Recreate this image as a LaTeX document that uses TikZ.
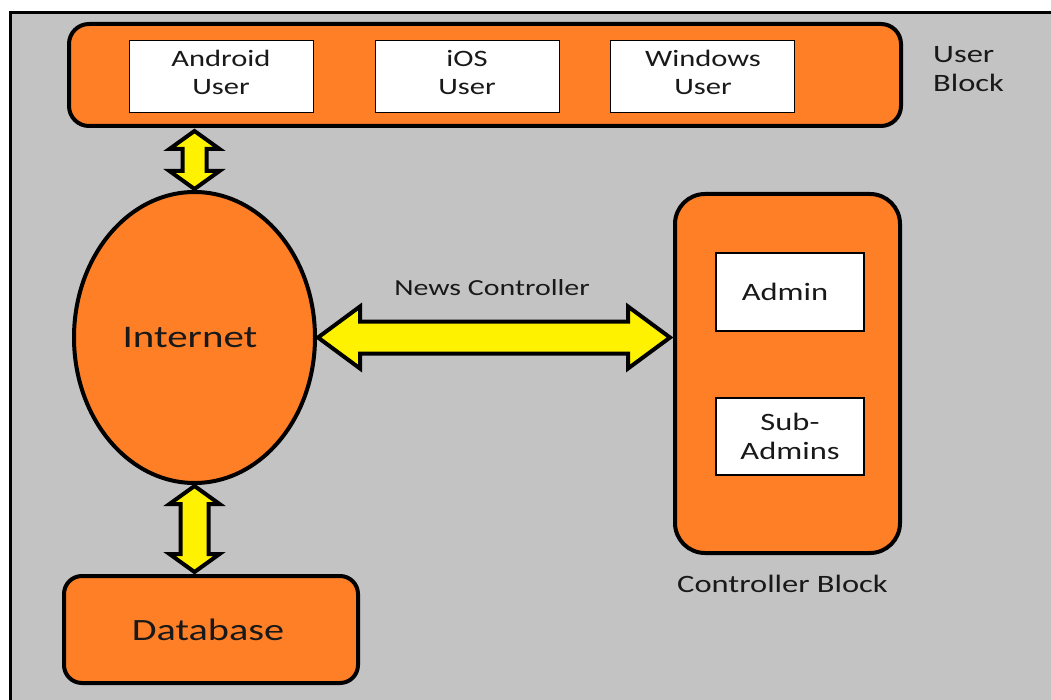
\documentclass[tikz,border=0pt]{standalone}
\usepackage{fontspec}
\setmainfont{Carlito}[FakeStretch=1.3]
\usetikzlibrary{shapes.geometric,calc}
\definecolor{bggrey}{RGB}{195,195,195}
\definecolor{orng}{RGB}{255,127,39}
\definecolor{yel}{RGB}{255,242,0}
\definecolor{ink}{RGB}{25,25,25}
\begin{document}
\begin{tikzpicture}[x=1pt,y=-1pt,
  block/.style={draw=black, line width=4pt, fill=orng, rounded corners=#1, inner sep=0pt, text=ink},
  whitebox/.style={draw=black, line width=1.5pt, fill=white, inner sep=0pt, text=ink},
  lbl/.style={inner sep=0pt, text=ink, align=center, font=\fontsize{23.5}{28}\selectfont},
  darrow/.style={draw=black, line width=4pt, fill=yel, line join=miter}
]
\fill[white] (0,0) rectangle (1051,700);
\useasboundingbox (0,0) rectangle (1051,700);
\fill[bggrey] (10,13) rectangle (1051,700);
\draw[line width=3pt] (10,700) -- (10,13) -- (1051,13);

% user block
\node[block=20, minimum width=832pt, minimum height=102pt] (user) at (485,75) {};
\node[whitebox, minimum width=184pt, minimum height=72pt] (android) at (221.5,76.5) {};
\node[whitebox, minimum width=184pt, minimum height=72pt] (ios) at (467.5,76.5) {};
\node[whitebox, minimum width=184pt, minimum height=72pt] (windows) at (702.5,76.5) {};
\node[lbl, anchor=base] (tandroid) at (221,95) {Android\\User};
\node[lbl, anchor=base] (tios) at (467,95) {iOS\\User};
\node[lbl, anchor=base] (twindows) at (703,95) {Windows\\User};
\node[lbl, align=left, anchor=base west, font=\fontsize{25}{29}\selectfont] (tuserblock) at (933,92) {User\\Block};

% internet
\node[ellipse, draw=black, line width=4pt, fill=orng, minimum width=241pt, minimum height=291pt, inner sep=0pt, text=ink, font=\fontsize{31.5}{36}\selectfont] (inet) at (194.5,337.5) {\hspace*{-9pt}Internet};

% database
\node[block=18, minimum width=294pt, minimum height=107pt, font=\fontsize{31}{36}\selectfont] (db) at (211,629.5) {\hspace*{-6pt}Database};

% controller block
\node[block=30, minimum width=225pt, minimum height=359pt] (ctrl) at (787.5,373.5) {};
\node[whitebox, minimum width=148pt, minimum height=78pt, font=\fontsize{25}{29}\selectfont] (admin) at (790,292) {\hspace*{-10pt}Admin};
\node[whitebox, minimum width=148pt, minimum height=77pt, align=center, font=\fontsize{25}{29}\selectfont] (sub) at (790,436.5) {Sub-\\Admins};
\node[lbl, anchor=base west, font=\fontsize{25}{29}\selectfont] (tctrl) at (677,592) {Controller Block};

% arrows
\coordinate (u1) at ($(inet.north |- user.south)+(0,3)$);
\coordinate (u2) at ($(inet.north)+(0,-1)$);
\draw[darrow] let \p1=(u1), \p2=(u2) in
  (\p1) -- (\x1+25pt,\y1-18pt) -- (\x1+12pt,\y1-18pt) -- (\x1+12pt,\y2+18pt) -- (\x1+25pt,\y2+18pt) -- (\p2)
  -- (\x1-25pt,\y2+18pt) -- (\x1-12pt,\y2+18pt) -- (\x1-12pt,\y1-18pt) -- (\x1-25pt,\y1-18pt) -- cycle;

\coordinate (d1) at ($(inet.south)+(0,1)$);
\coordinate (d2) at ($(inet.south |- db.north)+(0,-2)$);
\draw[darrow] let \p1=(d1), \p2=(d2) in
  (\p1) -- (\x1+25pt,\y1-18pt) -- (\x1+14pt,\y1-18pt) -- (\x1+14pt,\y2+18pt) -- (\x1+25pt,\y2+18pt) -- (\p2)
  -- (\x1-25pt,\y2+18pt) -- (\x1-14pt,\y2+18pt) -- (\x1-14pt,\y1-18pt) -- (\x1-25pt,\y1-18pt) -- cycle;

\coordinate (h1) at ($(inet.east)+(1,0)$);
\coordinate (h2) at ($(ctrl.west |- inet.east)+(-3,0)$);
\draw[darrow] let \p1=(h1), \p2=(h2) in
  (\p1) -- (\x1+42pt,\y1+31pt) -- (\x1+42pt,\y1+16pt) -- (\x2-42pt,\y1+16pt) -- (\x2-42pt,\y1+31pt) -- (\p2)
  -- (\x2-42pt,\y1-31pt) -- (\x2-42pt,\y1-16pt) -- (\x1+42pt,\y1-16pt) -- (\x1+42pt,\y1-31pt) -- cycle;
\node[lbl, anchor=base, font=\fontsize{23}{28}\selectfont] (tnews) at (492,296) {News Controller};
\end{tikzpicture}
\end{document}
